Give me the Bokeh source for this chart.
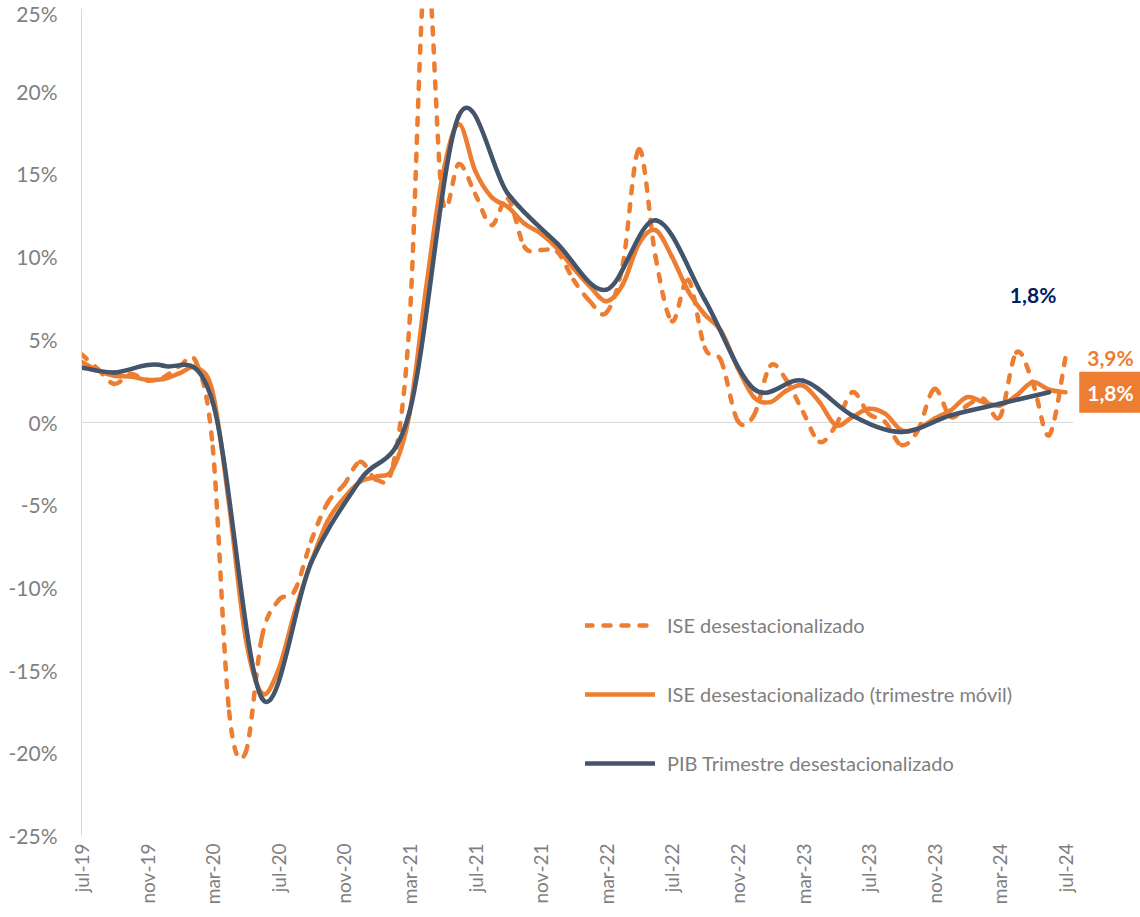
import math
from bokeh.plotting import figure
from bokeh.models import Range1d, FixedTicker, Legend, LegendItem, Label, ColumnDataSource
from bokeh.embed import file_html
from bokeh.resources import INLINE

# ---------------- data ----------------
months = ["jul-19", "ago-19", "sep-19", "oct-19", "nov-19", "dic-19",
          "ene-20", "feb-20", "mar-20", "abr-20", "may-20", "jun-20",
          "jul-20", "ago-20", "sep-20", "oct-20", "nov-20", "dic-20",
          "ene-21", "feb-21", "mar-21", "abr-21", "may-21", "jun-21",
          "jul-21", "ago-21", "sep-21", "oct-21", "nov-21", "dic-21",
          "ene-22", "feb-22", "mar-22", "abr-22", "may-22", "jun-22",
          "jul-22", "ago-22", "sep-22", "oct-22", "nov-22", "dic-22",
          "ene-23", "feb-23", "mar-23", "abr-23", "may-23", "jun-23",
          "jul-23", "ago-23", "sep-23", "oct-23", "nov-23", "dic-23",
          "ene-24", "feb-24", "mar-24", "abr-24", "may-24", "jun-24",
          "jul-24"]

# ISE desestacionalizado (monthly, %)
ise = [4.1, 3.2, 2.3, 2.9, 2.5, 2.7, 3.4, 3.6, -1.5, -17.5, -20.0, -13.0,
       -10.8, -10.2, -7.2, -4.9, -3.8, -2.4, -3.5, -2.6, 6.0, 28.0, 13.5, 15.6,
       13.8, 11.9, 13.5, 10.6, 10.4, 10.3, 8.6, 7.3, 6.6, 9.5, 16.5, 10.0,
       6.1, 8.6, 4.5, 3.7, 0.1, 0.4, 3.4, 2.5, 0.6, -1.2, -0.2, 1.8,
       0.5, 0.0, -1.4, -0.5, 2.0, 0.3, 1.0, 1.4, 0.3, 4.2, 2.4, -0.8,
       3.9]

# ISE desestacionalizado (trimestre móvil, %)
ise_tm = [3.65, 3.1, 2.8, 2.75, 2.55, 2.6, 2.95, 3.3, 1.8, -5.0, -13.0, -16.4,
          -15.0, -11.5, -8.5, -6.0, -4.6, -3.6, -3.3, -2.8, 0.5, 8.0, 14.8, 18.0,
          15.2, 13.6, 13.0, 12.0, 11.4, 10.5, 9.3, 8.2, 7.3, 8.3, 10.8, 11.6,
          10.0, 7.9, 6.5, 5.5, 3.3, 1.5, 1.2, 1.9, 2.2, 1.2, -0.2, 0.3,
          0.8, 0.5, -0.5, -0.4, 0.2, 0.7, 1.5, 1.2, 1.0, 1.6, 2.4, 1.95,
          1.8]

# PIB Trimestre desestacionalizado (quarterly, %)
pib_months = ["jul-19", "sep-19", "dic-19", "mar-20", "jun-20", "sep-20",
              "dic-20", "mar-21", "jun-21", "sep-21", "dic-21", "mar-22",
              "jun-22", "sep-22", "dic-22", "mar-23", "jun-23", "sep-23",
              "dic-23", "mar-24", "jun-24"]
pib = [3.3, 3.0, 3.4, 1.2, -16.7, -8.5, -3.5, 0.6, 18.5, 13.8, 10.8, 8.0,
       12.2, 7.4, 2.0, 2.5, 0.4, -0.6, 0.4, 1.1, 1.8]

series_names = ["ISE desestacionalizado",
                "ISE desestacionalizado (trimestre móvil)",
                "PIB Trimestre desestacionalizado"]
ytick_values = [-25, -20, -15, -10, -5, 0, 5, 10, 15, 20, 25]
ytick_labels = ["-25%", "-20%", "-15%", "-10%", "-5%", "0%", "5%", "10%", "15%", "20%", "25%"]

# ---------------- styles ----------------
ORANGE = "#ED7D31"
NAVY = "#44546A"
NAVY_TXT = "#002060"
GRAY = "#7F7F7F"
FONT = "Lato"
DASH = "7 11"
LW = 4.5


def smooth_segments(xs, ys):
    """Bezier segments through the points (Excel-like smoothed line)."""
    n = len(xs)
    d = dict(x0=[], y0=[], x1=[], y1=[], cx0=[], cy0=[], cx1=[], cy1=[])
    for i in range(n - 1):
        a = max(i - 1, 0)
        b = min(i + 2, n - 1)
        p0x, p0y = xs[a], ys[a]
        p1x, p1y = xs[i], ys[i]
        p2x, p2y = xs[i + 1], ys[i + 1]
        p3x, p3y = xs[b], ys[b]
        d["x0"].append(p1x); d["y0"].append(p1y)
        d["x1"].append(p2x); d["y1"].append(p2y)
        d["cx0"].append(p1x + (p2x - p0x) / 6.0)
        d["cy0"].append(p1y + (p2y - p0y) / 6.0)
        d["cx1"].append(p2x - (p3x - p1x) / 6.0)
        d["cy1"].append(p2y - (p3y - p1y) / 6.0)
    return ColumnDataSource(d)


x_all = list(range(len(months)))
x_pib = [months.index(m) for m in pib_months]
last = len(months) - 1

p = figure(width=1140, height=909, output_backend="svg", toolbar_location=None,
           x_range=Range1d(0, 1059 / 16.4), y_range=Range1d(-25, 25),
           min_border_left=81, min_border_right=0, min_border_top=8,
           min_border_bottom=74)
p.outline_line_color = None
p.background_fill_color = "white"
p.border_fill_color = "white"

# grid: only 0% line, spanning the categories
p.xgrid.visible = False
p.ygrid.ticker = FixedTicker(ticks=[0])
p.ygrid.grid_line_color = "#D9D9D9"
p.ygrid.grid_line_width = 1
try:
    p.ygrid.cross_bounds = (0, last + 0.5)
except Exception:
    p.ygrid.visible = False
    p.segment(x0=[0], y0=[0], x1=[last + 0.5], y1=[0], line_color="#D9D9D9", line_width=1)

# y axis
p.yaxis.ticker = FixedTicker(ticks=ytick_values)
p.yaxis.major_label_overrides = {v: l for v, l in zip(ytick_values, ytick_labels)}
p.yaxis.axis_line_color = "#D9D9D9"
p.yaxis.major_tick_line_color = None
p.yaxis.minor_tick_line_color = None
p.yaxis.major_tick_out = 0
p.yaxis.major_tick_in = 0
p.yaxis.minor_tick_out = 0
p.yaxis.major_label_standoff = 24
p.yaxis.major_label_text_font = FONT
p.yaxis.major_label_text_font_size = "21px"
p.yaxis.major_label_text_color = GRAY

# x axis
xt = list(range(0, len(months), 4))
p.xaxis.ticker = FixedTicker(ticks=xt)
p.xaxis.major_label_overrides = {i: months[i] for i in xt}
p.xaxis.major_label_orientation = math.pi / 2
p.xaxis.axis_line_color = None
p.xaxis.major_tick_line_color = None
p.xaxis.minor_tick_line_color = None
p.xaxis.major_tick_out = 0
p.xaxis.major_tick_in = 0
p.xaxis.minor_tick_out = 0
p.xaxis.axis_label_standoff = 0
p.xaxis.major_label_standoff = 8
p.xaxis.major_label_text_font = FONT
p.xaxis.major_label_text_font_size = "19px"
p.xaxis.major_label_text_color = GRAY

# lines
p.bezier(x0="x0", y0="y0", x1="x1", y1="y1", cx0="cx0", cy0="cy0", cx1="cx1", cy1="cy1",
         source=smooth_segments(x_all, ise), line_color=ORANGE, line_width=LW,
         line_dash=DASH, line_cap="round")
p.bezier(x0="x0", y0="y0", x1="x1", y1="y1", cx0="cx0", cy0="cy0", cx1="cx1", cy1="cy1",
         source=smooth_segments(x_all, ise_tm), line_color=ORANGE, line_width=LW,
         line_cap="round")
p.bezier(x0="x0", y0="y0", x1="x1", y1="y1", cx0="cx0", cy0="cy0", cx1="cx1", cy1="cy1",
         source=smooth_segments(x_pib, pib), line_color=NAVY, line_width=LW,
         line_cap="round")

# legend (sample renderers whose data are not drawable)
nan = float("nan")
l1 = p.line([nan, nan], [nan, nan], line_color=ORANGE, line_width=LW, line_dash=DASH, line_cap="round")
l2 = p.line([nan, nan], [nan, nan], line_color=ORANGE, line_width=LW, line_cap="round")
l3 = p.line([nan, nan], [nan, nan], line_color=NAVY, line_width=LW, line_cap="round")
legend = Legend(items=[LegendItem(label=series_names[0], renderers=[l1]),
                       LegendItem(label=series_names[1], renderers=[l2]),
                       LegendItem(label=series_names[2], renderers=[l3])],
                location=(504, 60), orientation="vertical",
                glyph_width=70, glyph_height=20, label_height=20,
                label_standoff=12, spacing=45, padding=0, margin=0,
                border_line_color=None, background_fill_alpha=0,
                label_text_font=FONT, label_text_font_size="20px",
                label_text_color=GRAY)
p.add_layout(legend)

# data labels
def pct(v):
    return ("%.1f%%" % v).replace(".", ",")

p.add_layout(Label(x=last, y=ise[-1], x_offset=45, text=pct(ise[-1]),
                   text_align="center", text_baseline="middle",
                   text_font=FONT, text_font_size="21px", text_font_style="bold",
                   text_color=ORANGE))
p.add_layout(Label(x=last, y=ise_tm[-1], x_offset=45, text=pct(ise_tm[-1]),
                   text_align="center", text_baseline="middle",
                   text_font=FONT, text_font_size="21px", text_font_style="bold",
                   text_color="white", background_fill_color=ORANGE, padding=8))
p.add_layout(Label(x=x_pib[-1], y=pib[-1], x_offset=-16, y_offset=98, text=pct(pib[-1]),
                   text_align="center", text_baseline="middle",
                   text_font=FONT, text_font_size="21px", text_font_style="bold",
                   text_color=NAVY_TXT))

open("out.html", "w").write(file_html(p, INLINE))
